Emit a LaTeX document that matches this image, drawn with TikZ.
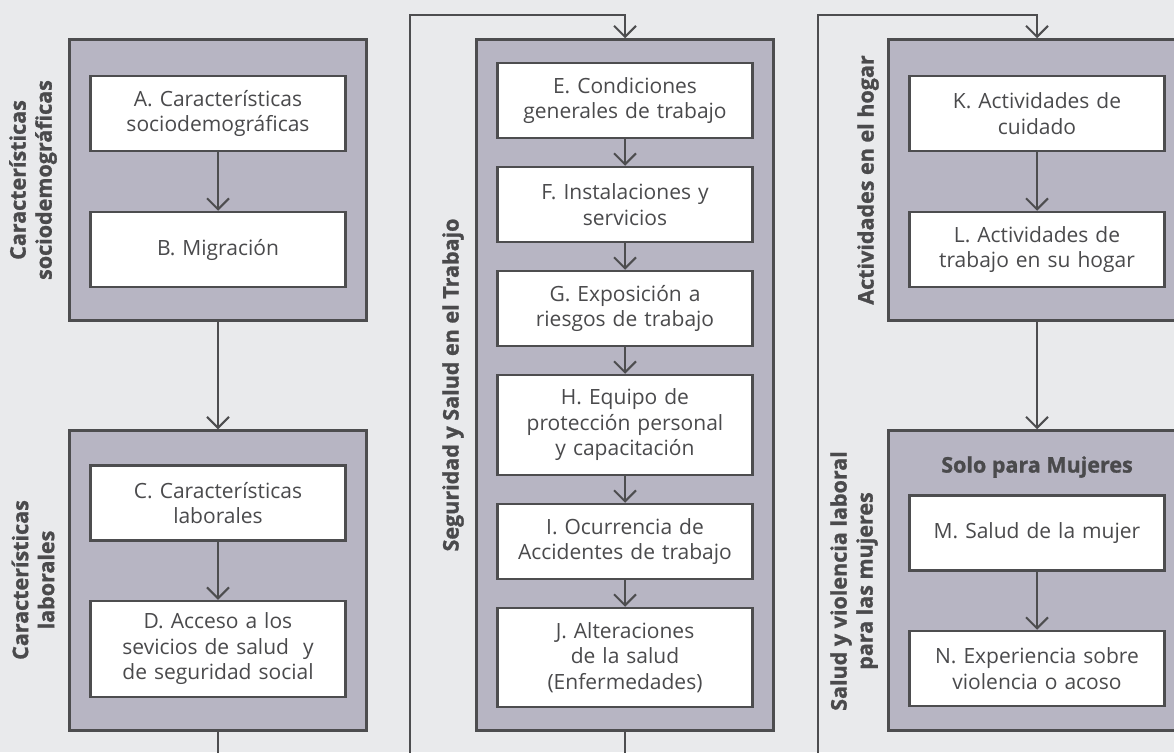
\documentclass[tikz,border=0pt]{standalone}
\usepackage{fontspec}
\setmainfont{Open Sans}[BoldFeatures={FakeBold=1.2}]
\usepackage{tikz}
\usetikzlibrary{arrows.meta}
\definecolor{bggray}{HTML}{E9EAEC}
\definecolor{boxgray}{HTML}{B7B5C3}
\definecolor{linegray}{HTML}{4D4D4F}
\definecolor{txtgray}{HTML}{4A4A4C}
\tikzset{
  group/.style={draw=linegray, fill=boxgray, line width=2.5pt,
    minimum width=297pt, inner sep=0pt},
  item/.style={draw=linegray, fill=white, line width=2.5pt,
    minimum width=255pt, text width=250pt, align=center, inner sep=0pt,
    text=txtgray, font=\fontsize{21}{25.5}\selectfont},
  side/.style={rotate=90, align=center, text=txtgray, inner sep=0pt,
    font=\bfseries\fontsize{21.5}{26}\selectfont},
  arr/.style={draw=linegray, line width=2pt,
    -{Straight Barb[length=11pt,width=22pt,line width=2pt]}},
}

\begin{document}
\begin{tikzpicture}[x=1pt,y=-1pt]
\clip (0,0) rectangle (1174,752);
\fill[bggray] (0,0) rectangle (1174,752);
% column 1
\node[group, minimum height=281pt] (g1) at (218,180) {};
\node[group, minimum height=300pt] (g2) at (218,580.5) {};
\node[item, minimum height=75pt] (A) at (218,113.5)
  {A. Características\\sociodemográficas};
\node[item, minimum height=75pt] (B) at (218,249.5) {B. Migración};
\node[item, minimum height=75pt] (C) at (218,503)
  {C. Características\\laborales};
\node[item, minimum height=96pt] (D) at (218,649)
  {D. Acceso a los\\sevicios de salud~ y\\de seguridad social};
\node[side] (s1) at (33,180) {Características\\sociodemográficas};
\node[side] (s2) at (33,580) {Características\\laborales};
% column 2
\node[group, minimum height=691pt] (g3) at (625,385) {};
\node[item, minimum height=75pt] (E) at (625,100.5)
  {E. Condiciones\\generales de trabajo};
\node[item, minimum height=75pt] (F) at (625,204.5)
  {F. Instalaciones y\\servicios};
\node[item, minimum height=75pt] (G) at (625,308.5)
  {G. Exposición a\\riesgos de trabajo};
\node[item, minimum height=100pt] (H) at (625,425)
  {H. Equipo de\\protección personal\\y capacitación};
\node[item, minimum height=75pt] (I) at (625,541.5)
  {I. Ocurrencia de\\Accidentes de trabajo};
\node[item, minimum height=99pt] (J) at (625,657.5)
  {J. Alteraciones\\de la salud\\(Enfermedades)};
\node[side] (s3) at (453,385) {Seguridad y Salud en el Trabajo};
% column 3
\node[group, minimum height=281pt] (g4) at (1037,180) {};
\node[group, minimum height=300pt] (g5) at (1037,580.5) {};
\node[item, minimum height=75pt] (K) at (1037,113.5)
  {K. Actividades de\\cuidado};
\node[item, minimum height=75pt] (L) at (1037,249.5)
  {L. Actividades de\\trabajo en su hogar};
\node[text=txtgray, font=\bfseries\fontsize{21.5}{24}\selectfont]
  (t5) at (1037,467) {Solo para Mujeres};
\node[item, minimum height=75pt] (M) at (1037,533)
  {M. Salud de la mujer};
\node[item, minimum height=75pt] (N) at (1037,668.5)
  {N. Experiencia sobre\\violencia o acoso};
\node[side] (s4) at (868,180) {Actividades en el hogar};
\node[side] (s5) at (854,581) {Salud y violencia laboral\\para las mujeres};
\coordinate (c1) at (410,790);
\coordinate (c2) at (410,15);
\coordinate (c3) at (818,790);
\coordinate (c4) at (818,15);
\draw[arr] (A) -- (B);
\draw[arr] (C) -- (D);
\draw[arr] (E) -- (F);
\draw[arr] (F) -- (G);
\draw[arr] (G) -- (H);
\draw[arr] (H) -- (I);
\draw[arr] (I) -- (J);
\draw[arr] (K) -- (L);
\draw[arr] (M) -- (N);
\draw[arr]
  (g1) --
  (g2);
\draw[arr]
  (g4) --
  (g5);
\draw[arr]
  (g2.south) |- (c1) --
  (c2) -| (g3.north);
\draw[arr]
  (g3.south) |- (c3) --
  (c4) -| (g4.north);
\end{tikzpicture}
\end{document}
